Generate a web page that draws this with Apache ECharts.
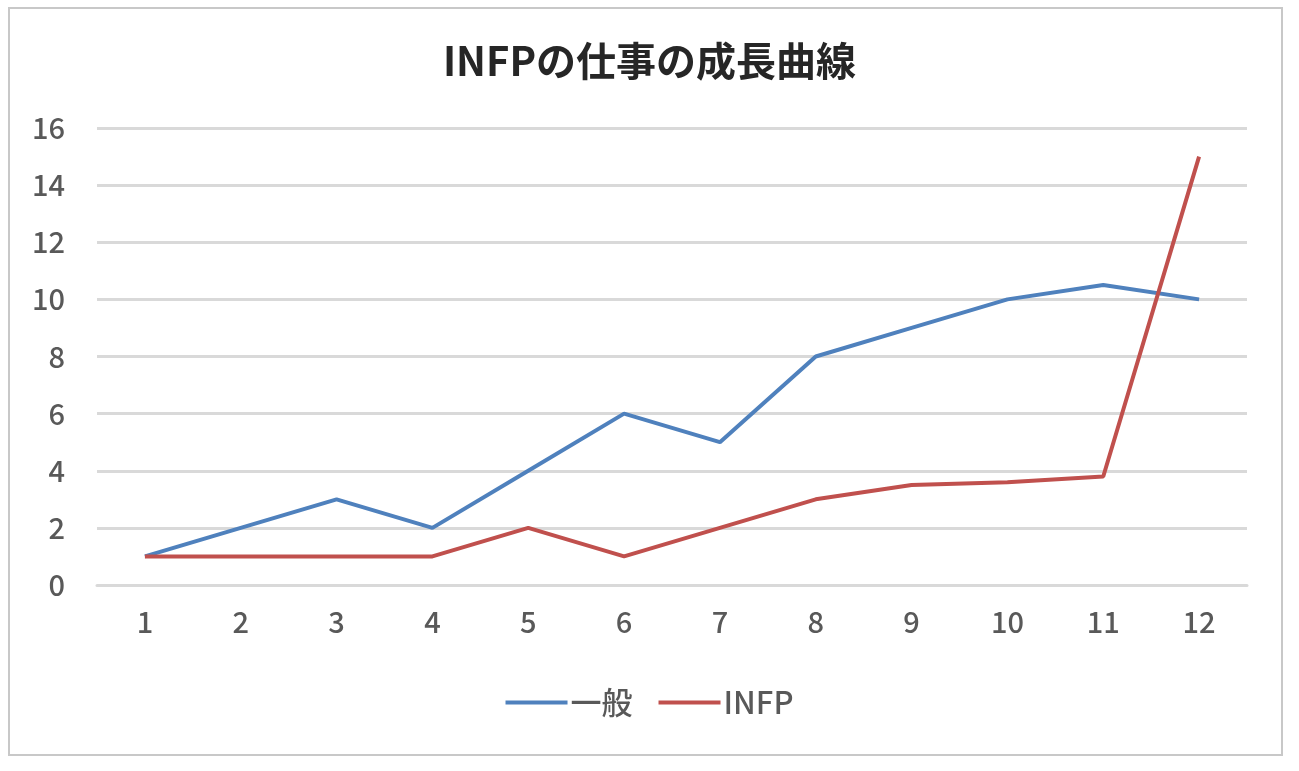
<!DOCTYPE html>
<html>
<head>
<meta charset="utf-8">
<script src="https://cdn.jsdelivr.net/npm/echarts@6/dist/echarts.min.js"></script>
<style>
html, body { margin: 0; padding: 0; background: #fff; }
#chartBox { width: 1299px; height: 771px; }
</style>
</head>
<body>
<div id="chartBox"></div>
<script>
// 横軸カテゴリ
var categories = ['1', '2', '3', '4', '5', '6', '7', '8', '9', '10', '11', '12'];
// 一般
var general = [1, 2, 3, 2, 4, 6, 5, 8, 9, 10, 10.5, 10];
// INFP
var infp = [1, 1, 1, 1, 2, 1, 2, 3, 3.5, 3.6, 3.8, 15];

var chartDom = document.getElementById('chartBox');
var myChart = echarts.init(chartDom);

var labelFont = '"Noto Sans CJK JP", "Noto Sans", sans-serif';

var option = {
    backgroundColor: '#fff',
    animation: false,
    title: {
        text: 'INFPの仕事の成長曲線',
        left: 'center',
        top: 36,
        textStyle: {
            fontFamily: labelFont,
            fontSize: 40,
            fontWeight: 'bold',
            color: '#262626'
        }
    },
    graphic: [
        {
            type: 'rect',
            shape: { x: 9, y: 8, width: 1273, height: 747 },
            style: { fill: 'none', stroke: '#c8c8c8', lineWidth: 2 },
            z: -1
        }
    ],
    legend: {
        data: ['一般', 'INFP'],
        left: 'center',
        top: 682,
        icon: 'rect',
        itemWidth: 62,
        itemHeight: 4,
        itemGap: 26,
        textStyle: {
            fontFamily: labelFont,
            fontSize: 31,
            fontWeight: 500,
            color: '#595959',
            padding: [0, 0, 0, -2]
        }
    },
    grid: {
        left: 97,
        right: 52,
        top: 128,
        bottom: 186
    },
    xAxis: {
        type: 'category',
        data: categories,
        boundaryGap: true,
        axisLine: { show: true, lineStyle: { color: '#d9d9d9', width: 3 } },
        axisTick: { show: false },
        axisLabel: {
            fontFamily: labelFont,
            fontSize: 29,
            fontWeight: 500,
            color: '#595959',
            margin: 22
        }
    },
    yAxis: {
        type: 'value',
        min: 0,
        max: 16,
        interval: 2,
        axisLine: { show: false },
        axisTick: { show: false },
        axisLabel: {
            fontFamily: labelFont,
            fontSize: 29,
            fontWeight: 500,
            color: '#595959',
            margin: 32
        },
        splitLine: { lineStyle: { color: '#d9d9d9', width: 3 } }
    },
    series: [
        {
            name: '一般',
            type: 'line',
            data: general,
            symbol: 'none',
            itemStyle: { color: '#4F81BD' },
            lineStyle: { color: '#4F81BD', width: 4 }
        },
        {
            name: 'INFP',
            type: 'line',
            data: infp,
            symbol: 'none',
            itemStyle: { color: '#C0504D' },
            lineStyle: { color: '#C0504D', width: 4 }
        }
    ]
};
myChart.setOption(option);
</script>
</body>
</html>
